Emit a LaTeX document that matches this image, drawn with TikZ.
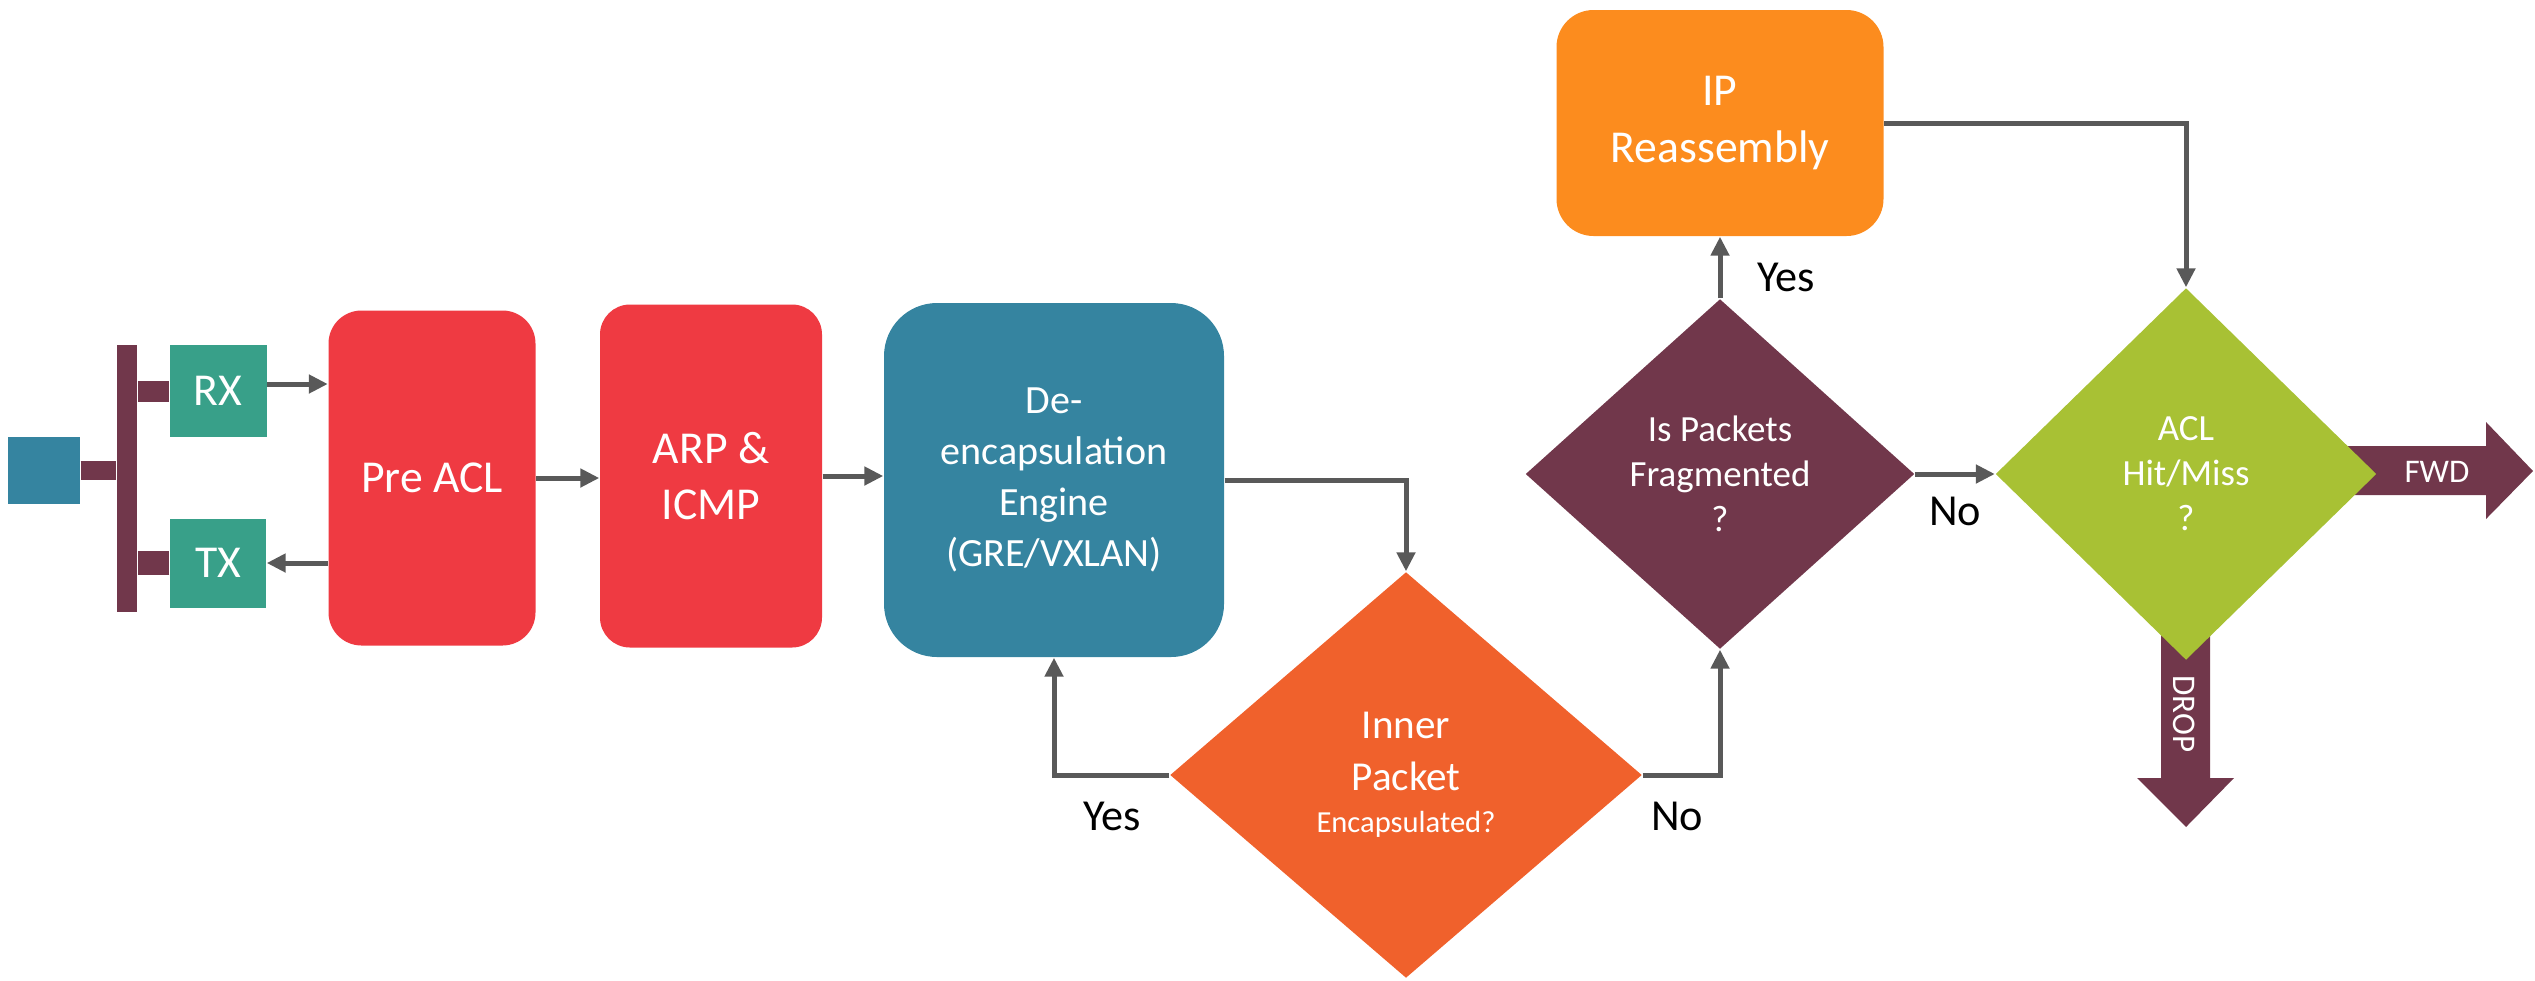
\documentclass[tikz,border=0pt]{standalone}
\usepackage{fontspec}
\setmainfont{Carlito}
\usepackage{tikz}
\usetikzlibrary{arrows.meta,shapes.geometric}
\definecolor{portblue}{RGB}{53,132,160}
\definecolor{plum}{RGB}{113,55,75}
\definecolor{rxgreen}{RGB}{56,160,137}
\definecolor{blockred}{RGB}{239,58,66}
\definecolor{innerorange}{RGB}{240,97,44}
\definecolor{iporange}{RGB}{252,140,30}
\definecolor{aclgreen}{RGB}{168,193,52}
\definecolor{linegray}{RGB}{89,89,89}
\newcommand{\bigtxt}{\fontsize{13}{16}\selectfont}

\begin{document}
\begin{tikzpicture}[x=0.1mm, y=-0.1mm,
  box/.style={rectangle, fill=blockred, text=white, align=center, inner sep=0pt, font=\bigtxt},
  choice/.style={diamond, text=white, align=center, inner sep=0pt},
  flow/.style={draw=linegray, line width=0.5mm, -{Triangle[length=1.9mm,width=1.8mm]}},
  stub/.style={draw=plum, line width=2.1mm},
  answer/.style={font=\fontsize{12.6}{15}\selectfont},
  tag/.style={text=white, inner sep=0pt, font=\fontsize{9.4}{11}\selectfont}]
\useasboundingbox (0,0) rectangle (2535,980);
\node[box, fill=portblue, minimum width=7.2mm, minimum height=6.7mm] (port) at (44,470) {};
\node[box, fill=plum, minimum width=2mm, minimum height=26.7mm] (bus) at (127,478) {};
\node[box, fill=rxgreen, minimum width=9.7mm, minimum height=9.2mm] (rx) at (218,391) {RX};
\node[box, fill=rxgreen, minimum width=9.6mm, minimum height=8.9mm] (tx) at (218,563) {TX};
\node[box, rounded corners=3.3mm, minimum width=20.7mm, minimum height=33.5mm] (preacl) at (432,478) {Pre ACL};
\node[box, rounded corners=3mm, minimum width=22.2mm, minimum height=34.3mm] (arp) at (711,476) {ARP \&\\ICMP};
\node[box, fill=portblue, rounded corners=5.3mm, minimum width=34mm, minimum height=35.4mm,
  font=\fontsize{11.4}{14.5}\selectfont] (deencap) at (1054,480) {De-\\encapsulation\\Engine\\(GRE/VXLAN)};
\node[choice, fill=innerorange, minimum width=47.2mm, minimum height=40.6mm,
  font=\fontsize{11.7}{14.8}\selectfont] (inner) at (1406,775)
  {Inner\\Packet\\[-2.8pt]{\fontsize{8.7}{10}\selectfont Encapsulated?}};
\node[choice, fill=plum, minimum width=38.9mm, minimum height=35mm,
  font=\fontsize{10.5}{12.8}\selectfont] (frag) at (1720,474) {Is Packets\\Fragmented\\?};
\node[box, fill=iporange, rounded corners=3.7mm, minimum width=32.7mm, minimum height=22.6mm] (ip) at (1720,123) {IP\\Reassembly};
\fill[plum] (2320,446) -- (2486,446) -- (2486,422) -- (2533,471) -- (2486,519) -- (2486,495) -- (2320,495) -- cycle;
\fill[plum] (2161,620) -- (2161,778) -- (2137,778) -- (2186,827) -- (2234,778) -- (2210,778) -- (2210,620) -- cycle;
\node[choice, fill=aclgreen, minimum width=38.1mm, minimum height=37.2mm,
  font=\fontsize{10.5}{12.8}\selectfont] (acl) at (2186,474) {ACL\\Hit/Miss\\?};
\node[tag] (fwd) at (2437,472) {FWD};
\node[tag, rotate=-90] (drop) at (2184,714) {DROP};

\draw[stub, line width=1.9mm] (port.east) -- (port.east -| bus.west);
\draw[stub] (rx.west) -- (rx.west -| bus.east);
\draw[stub, line width=2.4mm] (tx.west) -- (tx.west -| bus.east);
\draw[flow] ([yshift=0.7mm]rx.east) -- ([yshift=0.7mm]rx.east -| preacl.west);
\draw[flow] (tx.east -| preacl.west) -- (tx.east);
\draw[flow] (preacl.east) -- (preacl.east -| arp.west);
\draw[flow] (arp.east) -- (arp.east -| deencap.west);
\draw[flow] (deencap.east) -| (inner.north);
\draw[flow] (inner.west) -| (deencap.south);
\draw[flow] (inner.east) -| (frag.south);
\draw[flow] (frag.north) -- (ip.south);
\draw[flow] (frag.east) -- (acl.west);
\draw[flow] (ip.east) -| (acl.north);
\node[answer] (yes1) at (1112,816) {Yes};
\node[answer] (no1) at (1677,816) {No};
\node[answer] (yes2) at (1786,277) {Yes};
\node[answer] (no2) at (1955,511) {No};
\end{tikzpicture}
\end{document}
